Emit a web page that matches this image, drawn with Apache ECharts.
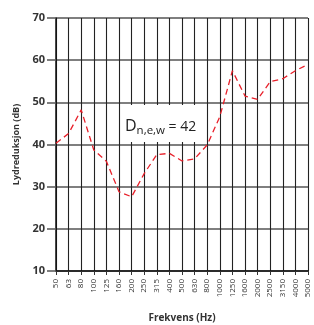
<!DOCTYPE html>
<html>
<head>
<meta charset="utf-8">
<script src="https://cdn.jsdelivr.net/npm/echarts@6/dist/echarts.min.js"></script>
<style>
  html, body { margin: 0; padding: 0; background: #fff; }
  #chart { width: 314px; height: 325px; }
</style>
</head>
<body>
<div id="chart"></div>
<script>
// frekvensbånd (Hz)
const frequencies = ['50', '63', '80', '100', '125', '160', '200', '250', '315', '400', '500',
  '630', '800', '1000', '1250', '1600', '2000', '2500', '3150', '4000', '5000'];
// lydreduksjon (dB)
const reduction = [40.3, 42.6, 48.2, 38.7, 36.0, 28.8, 27.6, 33.1, 37.6, 37.9, 36.1,
  36.6, 39.9, 46.6, 57.5, 51.5, 50.7, 54.9, 55.6, 57.5, 59.0];
const yTicks = { min: 10, max: 70, step: 10 };
const ratingLabel = { main: 'D', sub: 'n,e,w', value: ' = 42' };

const chart = echarts.init(document.getElementById('chart'));
const font = 'Open Sans';

chart.setOption({
  animation: false,
  textStyle: { fontFamily: font },
  grid: { left: 56, right: 6, top: 18, bottom: 54, containLabel: false, outerBoundsMode: 'none' },
  xAxis: {
    type: 'category',
    data: frequencies,
    boundaryGap: false,
    name: 'Frekvens (Hz)',
    nameLocation: 'middle',
    nameGap: 42,
    nameTextStyle: { fontSize: 10, color: '#333', fontWeight: 'bold', fontFamily: font },
    axisLine: { lineStyle: { color: '#111', width: 1.5 } },
    axisTick: { show: true, alignWithLabel: true, length: 4, lineStyle: { color: '#333' } },
    axisLabel: { rotate: 90, interval: 0, fontSize: 8, color: '#333', margin: 8 },
    splitLine: { show: true, interval: 0, lineStyle: { color: '#222', width: 1.1 } }
  },
  yAxis: {
    type: 'value',
    min: yTicks.min,
    max: yTicks.max,
    interval: yTicks.step,
    name: 'Lydreduksjon (dB)',
    nameLocation: 'middle',
    nameGap: 35,
    nameTextStyle: { fontSize: 9, color: '#333', fontWeight: 'bold', fontFamily: font },
    axisLine: { show: true, lineStyle: { color: '#111', width: 1.5 } },
    axisTick: { show: true, length: 9, lineStyle: { color: '#555', width: 1.5 } },
    axisLabel: { fontSize: 11, color: '#333', margin: 11, fontWeight: 'bold' },
    splitLine: { show: true, lineStyle: { color: '#555', width: 1.5 } }
  },
  series: [{
    type: 'line',
    data: reduction,
    symbol: 'none',
    lineStyle: { color: '#e8202a', width: 1.3, type: [6, 4] },
    z: 5
  }],
  graphic: [{
    type: 'text',
    left: 121,
    top: 105,
    z: 10,
    style: {
      text: '{a|' + ratingLabel.main + '}{b|' + ratingLabel.sub + '}{c|' + ratingLabel.value + '}',
      backgroundColor: '#fff',
      padding: [7, 6, 8, 4],
      rich: {
        a: { fontSize: 16, fontFamily: font, fill: '#222', verticalAlign: 'bottom', lineHeight: 22 },
        b: { fontSize: 11.5, fontFamily: font, fill: '#222', verticalAlign: 'bottom', lineHeight: 16, padding: [0, 0, -3, 0] },
        c: { fontSize: 14, fontFamily: font, fill: '#222', verticalAlign: 'bottom', lineHeight: 18 }
      }
    }
  }]
});
</script>
</body>
</html>
